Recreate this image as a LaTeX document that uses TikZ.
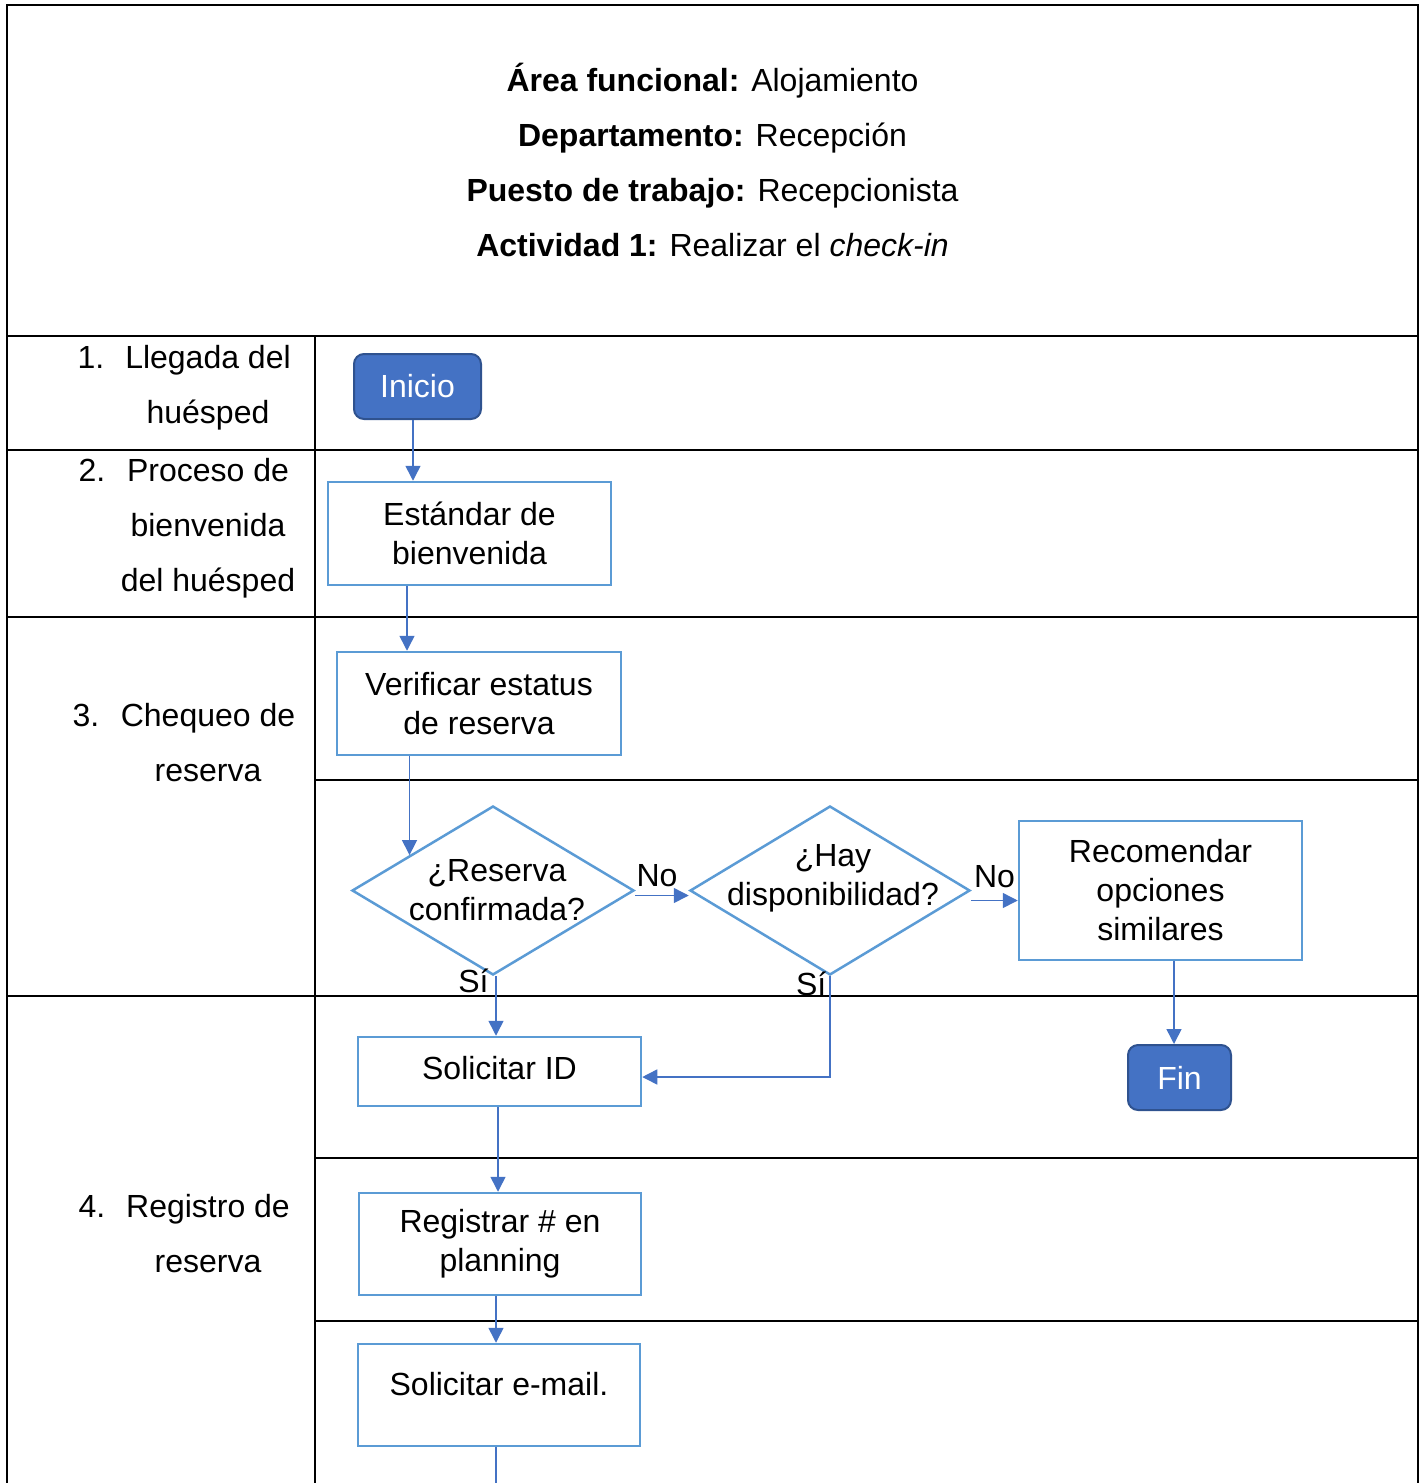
\documentclass[tikz,border=0pt]{standalone}
\usepackage{fontspec}
\setmainfont{Liberation Sans}
\usetikzlibrary{arrows.meta,shapes.geometric}
\definecolor{azul}{HTML}{4472C4}
\definecolor{azulborde}{HTML}{2F528F}
\definecolor{celeste}{HTML}{5B9BD5}

\begin{document}
\begin{tikzpicture}[x=.5pt,y=-.5pt]
	\tikzset{
		txt/.style={align=center,font=\fontsize{16}{19.5}\selectfont},
		caja/.style={txt,draw=celeste,line width=1.25pt,inner sep=0pt,minimum width=141.5pt},
		term/.style={txt,draw=azulborde,fill=azul,text=white,line width=1pt,rounded corners=5pt,inner sep=0pt},
		rombo/.style={diamond,draw=celeste,line width=1.25pt,inner sep=0pt,minimum height=84.5pt},
		lbl/.style={align=center,font=\fontsize{16}{27.5}\selectfont,inner sep=0pt},
		linea/.style={draw=azul,line width=.75pt},
		flecha/.style={linea,-{Triangle[length=7.5pt,width=7.5pt]}}
	}
	\useasboundingbox (0,0) rectangle (1426,1483);
	% tabla
	\draw[line width=1pt] (7,1483) |- (1418,5) -- (1418,1483);
	\draw[line width=1pt] (7,336) -- (1418,336) (315,336) -- (315,1483)
	(7,450) -- (1418,450) (7,617) -- (1418,617) (315,780) -- (1418,780)
	(7,996) -- (1418,996) (315,1158) -- (1418,1158) (315,1321) -- (1418,1321);
	\node[lbl] (hdr) at (712.5,159.5) {\textbf{Área funcional:} Alojamiento\\
		\textbf{Departamento:} Recepción\\
		\textbf{Puesto de trabajo:} Recepcionista\\
		\textbf{Actividad 1:} Realizar el \textit{check-in}};
	% columna de actividades
	\node[lbl] (n1) at (91,357) {1.};
	\node[lbl] (l1) at (208,387.5) {Llegada del\\huésped};
	\node[lbl] (n2) at (92,470) {2.};
	\node[lbl] (l2) at (208,528) {Proceso de\\bienvenida\\del huésped};
	\node[lbl] (n3) at (86,715) {3.};
	\node[lbl] (l3) at (208,742.5) {Chequeo de\\reserva};
	\node[lbl] (n4) at (92,1206) {4.};
	\node[lbl] (l4) at (208,1233.5) {Registro de\\reserva};
	% diagrama
	\node[term,minimum width=63.5pt,minimum height=32.5pt] (inicio) at (417.5,386.5) {Inicio};
	\node[caja,minimum height=51.5pt] (estandar) at (469.5,533.5) {Estándar de\\bienvenida};
	\node[caja,minimum width=142pt,minimum height=51.5pt] (verif) at (479,703.5) {Verificar estatus\\de reserva};
	\node[rombo,minimum width=141pt,label={[txt,xshift=2pt]center:¿Reserva\\confirmada?}] (dia1) at (493,890.5) {};
	\node[rombo,minimum width=140pt,label={[txt,yshift=6pt,xshift=1.5pt]center:¿Hay\\disponibilidad?}] (dia2) at (830,890.5) {};
	\node[caja,minimum height=69.5pt] (recom) at (1160.5,890.5) {Recomendar\\opciones\\similares};
	\node[caja,minimum height=34.5pt,text depth=4pt] (solid) at (499.5,1071.5) {Solicitar ID};
	\node[term,minimum width=51.5pt,minimum height=32.5pt] (fin) at (1179.5,1077.5) {Fin};
	\node[caja,minimum width=141pt,minimum height=51pt] (regis) at (500,1244) {Registrar \# en\\planning};
	\node[caja,minimum width=141pt,minimum height=51pt,text depth=11pt] (mail) at (499,1395) {Solicitar e-mail.};
	% conectores
	\coordinate (c1) at (413,0);
	\coordinate (c2) at (407,0);
	\coordinate (c3) at (496,0);
	\coordinate (c4) at (498,0);
	\coordinate (c5) at (1174,0);
	\coordinate (fondo) at (496,1483);
	\draw[flecha] (inicio.south -| c1) -- (estandar.north -| c1);
	\draw[flecha] (estandar.south -| c2) -- (verif.north -| c2);
	\draw[flecha] (verif.south -| dia1.157) -- (dia1.157);
	\draw[flecha] ([yshift=-2.5pt]dia1.east) -- node[above,inner sep=4pt,txt,xshift=-2.5pt]{No} ([yshift=-2.5pt]dia1.east -| dia2.west);
	\draw[flecha] ([yshift=-5pt]dia2.east) -- node[above,inner sep=6pt,txt]{No} ([yshift=-5pt]dia2.east -| recom.west);
	\draw[flecha] (dia1.south -| c3) -- node[pos=.08,left,txt]{Sí} (solid.north -| c3);
	\draw[flecha] (dia2.south) |- node[pos=.04,left,inner sep=1.5pt,txt]{Sí} ([yshift=-2.75pt]solid.east);
	\draw[flecha] (recom.south -| c5) -- (fin.north -| c5);
	\draw[flecha] (solid.south -| c4) -- (regis.north -| c4);
	\draw[flecha] (regis.south -| c3) -- (mail.north -| c3);
	\draw[linea] (mail.south -| fondo) -- (fondo);
\end{tikzpicture}
\end{document}
